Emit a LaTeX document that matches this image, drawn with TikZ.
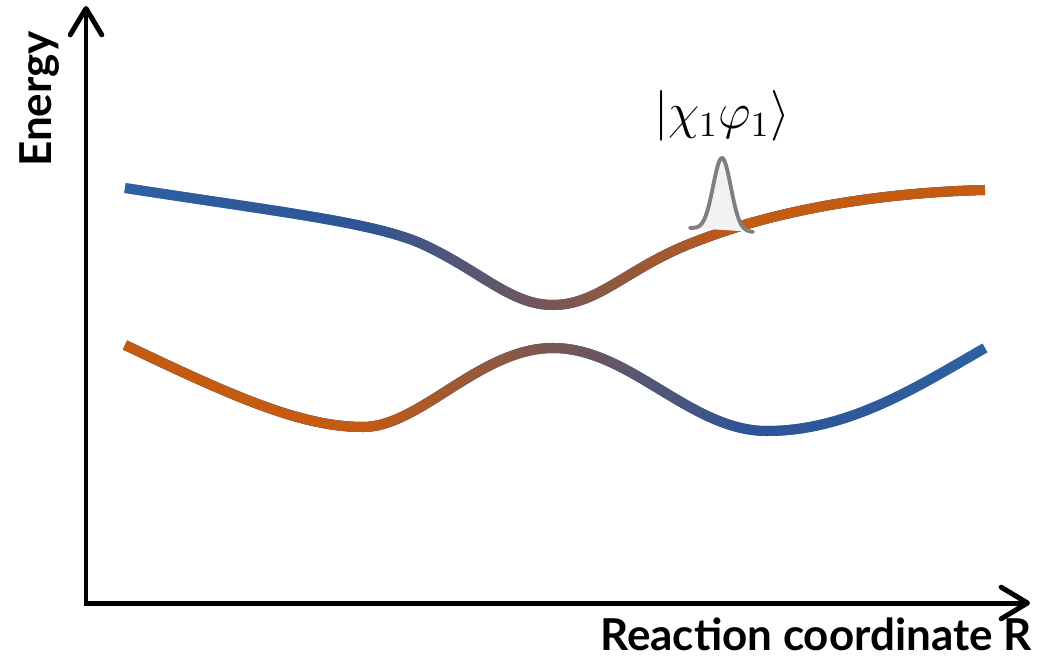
\documentclass[tikz,border=0pt]{standalone}
\usepackage{fontspec}
\setsansfont{Lato}
\usetikzlibrary{arrows.meta,fadings}
\definecolor{lightblue}{HTML}{2E75B6}
\definecolor{darkblue}{HTML}{2F5597}
\definecolor{rust}{HTML}{C55A11}
\definecolor{packetgray}{HTML}{7F7F7F}
\definecolor{packetfill}{HTML}{F2F2F2}

\begin{tikzfadingfrompicture}[name=crossfade]
  \fill[transparent!100] (-60bp,-60bp) rectangle (-11bp,60bp);
  \shade[left color=transparent!100,right color=transparent!0] (-11bp,-60bp) rectangle (11bp,60bp);
  \fill[transparent!0] (11bp,-60bp) rectangle (60bp,60bp);
\end{tikzfadingfrompicture}
\begin{tikzfadingfrompicture}[name=midfade]
  \fill[transparent!100] (-60bp,-60bp) rectangle (-48bp,60bp);
  \shade[left color=transparent!100,right color=transparent!0] (-48bp,-60bp) rectangle (-12bp,60bp);
  \fill[transparent!0] (-12bp,-60bp) rectangle (12bp,60bp);
  \shade[left color=transparent!0,right color=transparent!100] (12bp,-60bp) rectangle (48bp,60bp);
  \fill[transparent!100] (48bp,-60bp) rectangle (60bp,60bp);
\end{tikzfadingfrompicture}

\begin{document}
\begin{tikzpicture}[x=0.01cm,y=-0.01cm,
    axis/.style={line width=1.42pt,{Straight Barb[length=7.5pt,width=9pt,round]}-{Straight Barb[length=7.5pt,width=9pt,round]}},
    pes/.style={line width=2.85pt,line cap=butt,lightblue,
      postaction={draw,darkblue,path fading=midfade},
      postaction={draw,rust,path fading=crossfade,fading angle=#1}},
    axislabel/.style={font=\fontsize{12.5}{15}\selectfont\sffamily\bfseries},
  ]
  \useasboundingbox (0,0) rectangle (1058,658);

  \coordinate (origin) at (86,603);
  \coordinate (ytip) at (86,6);
  \coordinate (xtip) at (1030,603);
  \draw[axis] (ytip) -- (origin) -- (xtip);

  \node[axislabel,rotate=90] (energy) at (40,99) {Energy};
  \node[axislabel] (rc) at (816,634) {Reaction coordinate R};

  % upper state: blue on the left, orange on the right
  \draw[pes=0] (125,188) .. controls (280,212) and (370,222) .. (420,243)
    .. controls (480,270) and (510,305) .. (553,305)
    .. controls (600,305) and (630,265) .. (700,240)
    .. controls (790,205) and (900,192) .. (985,190);

  % lower state: orange on the left, blue on the right
  \draw[pes=180] (125,345) .. controls (230,395) and (300,427) .. (363,427)
    .. controls (420,427) and (480,348) .. (553,348)
    .. controls (630,348) and (690,431) .. (767,431)
    .. controls (850,431) and (920,385) .. (985,348);

  % wave packet
  \filldraw[fill=packetfill,draw=packetgray,line width=1.1pt,line cap=round]
    plot[domain=690:753,samples=60] (\x,{228+(\x-690)*0.0635-72*exp(-((\x-722)/12.5)^2)});
  \node[font=\fontsize{14.5}{17}\selectfont] (packet) at (722,116) {$\left|\chi_1\varphi_1\right\rangle$};
\end{tikzpicture}
\end{document}
